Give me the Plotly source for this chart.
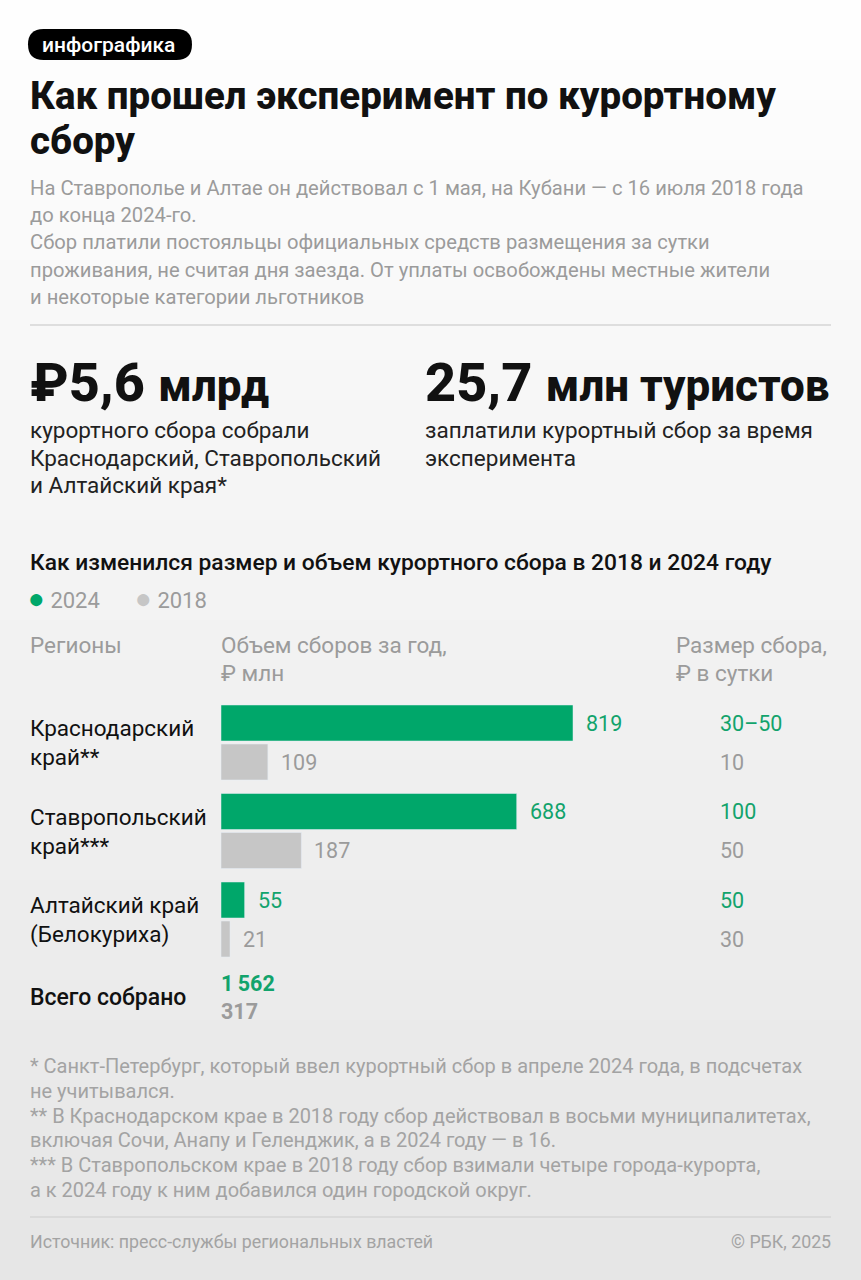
import plotly.graph_objects as go

W, H = 861, 1280

# data
regions = ["Краснодарский<br>край**", "Ставропольский<br>край***", "Алтайский край<br>(Белокуриха)"]
collected_2024 = [819, 688, 55]
collected_2018 = [109, 187, 21]
fee_2024 = ["30–50", "100", "50"]
fee_2018 = ["10", "50", "30"]

GREEN = "#00a76a"
GREEN_TXT = "#12a36c"
GREY_BAR = "#c6c6c6"
GREY_TXT = "#9b9b9b"
NOTE_TXT = "#a3a3a3"
BLACK = "#111111"
FONT = "Roboto"

ann = []
shapes = []


def text(x, y, s, size, color, weight=400, xanchor="left", family=FONT):
    dx = -2 if xanchor == "left" else (2 if xanchor == "right" else 0)
    ann.append(dict(x=(x + dx) / W, y=1 - y / H, xref="paper", yref="paper", text=s,
                    showarrow=False, xanchor=xanchor, yanchor="middle", align="left",
                    font=dict(family=family, size=size, color=color, weight=weight)))


def lines(x, y0, step, rows, size, color, weight=400):
    for i, r in enumerate(rows):
        text(x, y0 + i * step, r, size, color, weight)


def hline(y, x0=30, x1=831, color="#d6d6d6"):
    shapes.append(dict(type="line", xref="paper", yref="paper", x0=x0 / W, x1=x1 / W,
                       y0=1 - y / H, y1=1 - y / H, line=dict(color=color, width=1.5)))


# background gradient white -> light grey
n = 64
for i in range(n):
    c = int(255 - (255 - 230) * (i + 0.5) / n)
    shapes.append(dict(type="rect", xref="paper", yref="paper", x0=0, x1=1,
                       y0=1 - (i + 1) / n - 0.001, y1=1 - i / n, layer="below",
                       line=dict(width=0), fillcolor=f"rgb({c},{c},{c})"))

# pill "инфографика"
x0, x1, y0, y1, r = 28 / W, 192 / W, 1 - 60 / H, 1 - 29 / H, 15.5
rx, ry = r / W, r / H
pill = (f"M {x0 + rx},{y0} L {x1 - rx},{y0} Q {x1},{y0} {x1},{y0 + ry} "
        f"L {x1},{y1 - ry} Q {x1},{y1} {x1 - rx},{y1} L {x0 + rx},{y1} "
        f"Q {x0},{y1} {x0},{y1 - ry} L {x0},{y0 + ry} Q {x0},{y0} {x0 + rx},{y0} Z")
shapes.append(dict(type="path", xref="paper", yref="paper", path=pill,
                   fillcolor="#000000", line=dict(width=0)))
text(108, 44.5, "инфографика", 21, "white", 500, xanchor="center")

# title and lead
lines(30, 95, 45, ["Как прошел эксперимент по курортному", "сбору"], 38.5, BLACK, 800)
lines(30, 188, 27.2, [
    "На Ставрополье и Алтае он действовал с 1 мая, на Кубани — с 16 июля 2018 года",
    "до конца 2024-го.",
    "Сбор платили постояльцы официальных средств размещения за сутки",
    "проживания, не считая дня заезда. От уплаты освобождены местные жители",
    "и некоторые категории льготников",
], 20.2, GREY_TXT)
hline(325)

# key figures
text(30, 382, "₽5,6 <span style='font-size:44px'>млрд</span>", 54, BLACK, 800)
text(425, 382, "25,7 <span style='font-size:44px'>млн туристов</span>", 54, BLACK, 800)
lines(30, 430, 27.5, ["курортного сбора собрали", "Краснодарский, Ставропольский",
                      "и Алтайский края*"], 22.5, "#222222")
lines(425, 430, 27.5, ["заплатили курортный сбор за время", "эксперимента"], 22.5, "#222222")

# chart heading + legend
text(30, 562, "Как изменился размер и объем курортного сбора в 2018 и 2024 году", 22.8, BLACK, 500)
text(28, 598, f"<span style='color:{GREEN};font-size:28px'>●</span> 2024", 22, GREY_TXT)
text(135, 598, f"<span style='color:{GREY_BAR};font-size:28px'>●</span> 2018", 22, GREY_TXT)

# column headers
text(30, 645, "Регионы", 22.5, GREY_TXT)
lines(221, 645, 28, ["Объем сборов за год,", "₽ млн"], 22.5, GREY_TXT)
lines(676, 645, 28, ["Размер сбора,", "₽ в сутки"], 22.5, GREY_TXT)

fig = go.Figure()
fig.add_trace(go.Bar(y=regions, x=collected_2024, orientation="h", marker_color=GREEN,
                     name="2024", hoverinfo="skip"))
fig.add_trace(go.Bar(y=regions, x=collected_2018, orientation="h", marker_color=GREY_BAR,
                     name="2018", hoverinfo="skip"))

# row labels, bar values, fee sizes
for i, reg in enumerate(regions):
    for j, part in enumerate(reg.split("<br>")):
        ann.append(dict(x=28 / W, xref="paper", y=i, yref="y", yshift=14.5 - 29 * j,
                        text=part, showarrow=False, xanchor="left", yanchor="middle",
                        font=dict(family=FONT, size=22.5, color=BLACK)))
    for vals, fees, col, dy in [(collected_2024, fee_2024, GREEN_TXT, 19.5),
                                (collected_2018, fee_2018, GREY_TXT, -19.5)]:
        ann.append(dict(x=vals[i], xref="x", y=i, yref="y", xshift=11, yshift=dy,
                        text=str(vals[i]), showarrow=False, xanchor="left", yanchor="middle",
                        font=dict(family=FONT, size=21.5, color=col)))
        ann.append(dict(x=718 / W, xref="paper", y=i, yref="y", yshift=dy,
                        text=fees[i], showarrow=False, xanchor="left", yanchor="middle",
                        font=dict(family=FONT, size=21.5, color=col)))

# totals
fmt = lambda v: f"{v:,}".replace(",", "\u2009")
text(30, 997, "Всего собрано", 23, BLACK, 500)
text(221, 983, fmt(sum(collected_2024)), 21.5, GREEN_TXT, 700)
text(221, 1011, fmt(sum(collected_2018)), 21.5, GREY_TXT, 700)

# footnotes and source
lines(30, 1066, 24.8, [
    "* Санкт-Петербург, который ввел курортный сбор в апреле 2024 года, в подсчетах",
    "не учитывался.",
    "** В Краснодарском крае в 2018 году сбор действовал в восьми муниципалитетах,",
    "включая Сочи, Анапу и Геленджик, а в 2024 году — в 16.",
    "*** В Ставропольском крае в 2018 году сбор взимали четыре города-курорта,",
    "а к 2024 году к ним добавился один городской округ.",
], 20, NOTE_TXT)
hline(1217)
text(30, 1241, "Источник: пресс-службы региональных властей", 17.8, NOTE_TXT)
text(831, 1241, "© РБК, 2025", 17.8, NOTE_TXT, xanchor="right")

# pixel scale: bar start at x=221, 819 -> 352 px
k = 352 / 819
fig.update_layout(
    width=W, height=H, margin=dict(l=0, r=0, t=0, b=0),
    paper_bgcolor="white", plot_bgcolor="rgba(0,0,0,0)",
    barmode="group", bargap=1 - 78 / 88.5, bargroupgap=3 / 39,
    showlegend=False,
    xaxis=dict(range=[-221 / k, (W - 221) / k], domain=[0, 1], visible=False, fixedrange=True),
    yaxis=dict(type="category", range=[2.5, -0.5], domain=[1 - 963.75 / H, 1 - 698.25 / H],
               visible=False, fixedrange=True),
    annotations=ann, shapes=shapes,
)

fig.write_html("out.html", config={"displayModeBar": False},
               post_script="document.body.style.margin='0px';")
